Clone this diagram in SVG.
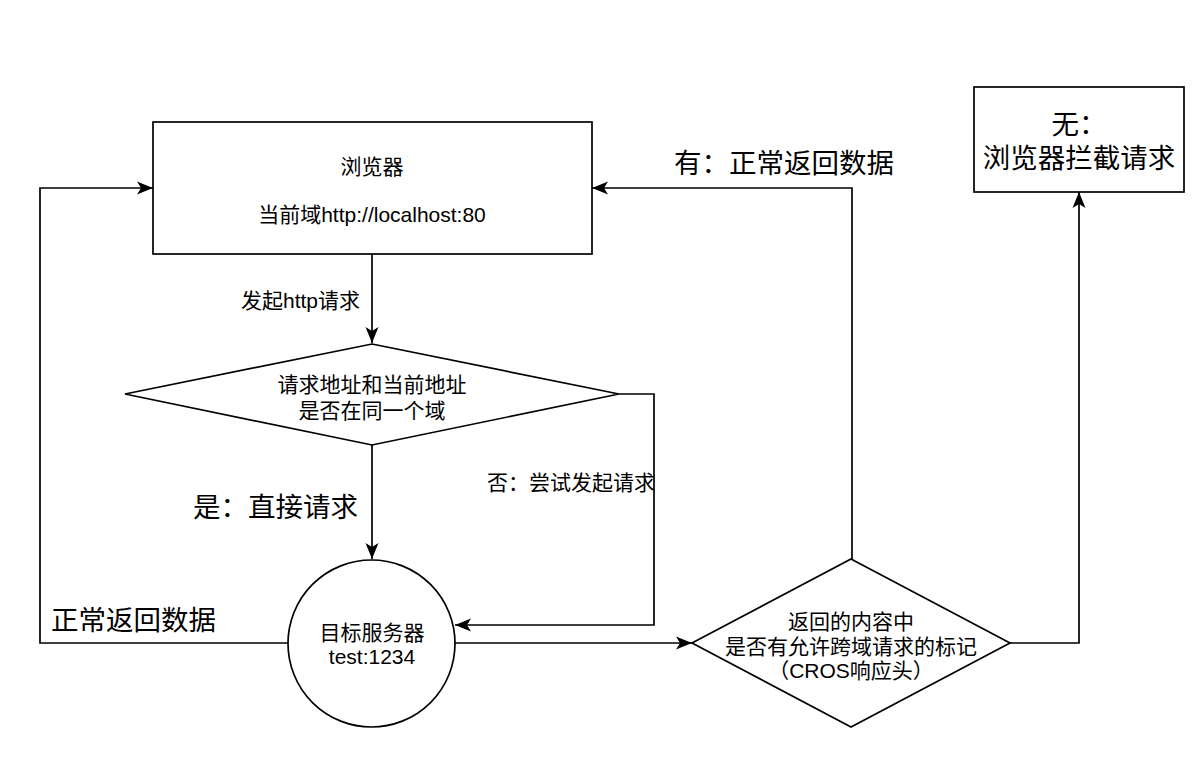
<svg xmlns="http://www.w3.org/2000/svg" width="1201" height="768" viewBox="0 0 1201 768">
<style>
.s{fill:#fff;stroke:#000;stroke-width:1.7}
.e{fill:none;stroke:#000;stroke-width:1.7}
text{font-family:"Liberation Sans","Noto Sans CJK SC",sans-serif;fill:#000}
.t{font-size:21px}
.b{font-size:27.5px}
.c{text-anchor:middle}
</style>
<defs>
<marker id="a" markerUnits="userSpaceOnUse" markerWidth="17" markerHeight="14" viewBox="0 0 17 14" refX="16" refY="7" orient="auto">
<path d="M0,0.5 L16,7 L0,13.5 L4,7 Z" fill="#000"/>
</marker>
</defs>
<rect width="1201" height="768" fill="#fff"/>
<g id="connectors">
<path class="e" d="M372,254 V343" marker-end="url(#a)"/>
<path class="e" d="M372,445 V559" marker-end="url(#a)"/>
<path class="e" d="M619,394 H654 V625 H455" marker-end="url(#a)"/>
<path class="e" d="M288,643 H40 V188 H153" marker-end="url(#a)"/>
<path class="e" d="M455,643 H692" marker-end="url(#a)"/>
<path class="e" d="M852,559 V188 H592" marker-end="url(#a)"/>
<path class="e" d="M1010,643 H1079 V192" marker-end="url(#a)"/>
<text class="t" x="241" y="308">发起http请求</text>
<text class="t" x="655" y="490" text-anchor="end">否：尝试发起请求</text>
<text class="b" x="193" y="517">是：直接请求</text>
<text class="b" x="51" y="630">正常返回数据</text>
<text class="b" x="674" y="173">有：正常返回数据</text>
</g>
<g id="browser">
<rect class="s" x="153" y="122" width="439" height="132"/>
<text class="t c" x="372" y="174">浏览器</text>
<text class="t c" x="372" y="222">当前域http://localhost:80</text>
</g>
<g id="same-domain">
<polygon class="s" points="372,344 619,394 372,445 125,394"/>
<text class="t c" x="372" y="392">请求地址和当前地址</text>
<text class="t c" x="372" y="418">是否在同一个域</text>
</g>
<g id="server">
<circle class="s" cx="371.5" cy="643.5" r="83.5"/>
<text class="t c" x="372" y="640">目标服务器</text>
<text class="t c" x="372" y="664">test:1234</text>
</g>
<g id="cors-check">
<polygon class="s" points="851,559 1010,643 851,727 692,643"/>
<text class="t c" x="851" y="629">返回的内容中</text>
<text class="t c" x="851" y="654">是否有允许跨域请求的标记</text>
<text class="t c" x="851" y="678">（CROS响应头）</text>
</g>
<g id="blocked">
<rect class="s" x="974" y="87" width="210" height="105"/>
<text class="b c" x="1079" y="134">无：</text>
<text class="b c" x="1079" y="168">浏览器拦截请求</text>
</g>
</svg>
